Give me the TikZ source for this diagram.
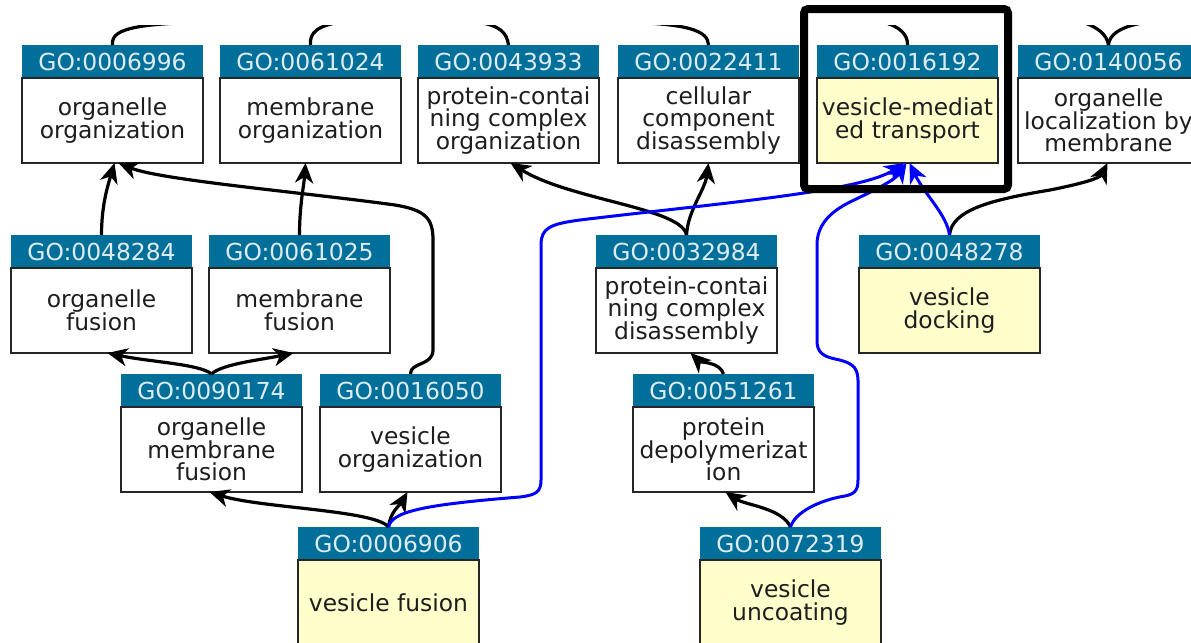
\documentclass[tikz,border=0pt]{standalone}
\usepackage{fontspec}
\setmainfont{DejaVu Sans}
\usetikzlibrary{arrows.meta,calc}

\definecolor{hdrblue}{RGB}{0,111,153}
\definecolor{hdrtext}{RGB}{222,236,242}
\definecolor{termfill}{RGB}{255,255,204}
\definecolor{inktext}{RGB}{30,30,30}
\definecolor{partofblue}{RGB}{0,0,255}

\newcommand\headfont{\fontsize{11.7}{13}\selectfont}
\newcommand\namefont{\fontsize{11.7}{11.3}\selectfont}

\tikzset{
  gohead/.style={fill=hdrblue, text=hdrtext, minimum width=90.5pt, minimum height=16.5pt,
    inner sep=0pt, outer sep=0pt, font=\headfont},
  gobody/.style={draw=black!85, line width=0.9pt, minimum width=90.5pt, minimum height=42.5pt,
    inner sep=0pt, outer sep=0pt, align=center, text=inktext, font=\namefont},
  tip/.style={-{Stealth[length=10pt,width=9pt,inset=3pt]}},
  isaline/.style={draw=black, line width=1.6pt, tip},
  partofline/.style={draw=partofblue, line width=1.5pt, tip},
  tailline/.style={draw=black, line width=1.6pt},
  focusframe/.style={draw=black, line width=4pt, rounded corners=2pt},
}

% one GO term: header strip with the id, body with the name
\newcommand\goterm[6]{%
  \node[gohead, anchor=north west] (h#1) at (#2,#3) {#4};
  \node[gobody, fill=#6, anchor=north] (b#1) at (h#1.south) {#5};
}

\begin{document}
\begin{tikzpicture}[x=0.5pt,y=-0.5pt]
\lineskiplimit=-20pt\relax
\clip (0,0) rectangle (1191,643);
\fill[white] (0,0) rectangle (1191,643);

% row 1
\goterm{6996}{22}{45}{GO:0006996}{organelle\\organization}{white}
\goterm{61024}{220}{45}{GO:0061024}{membrane\\organization}{white}
\goterm{43933}{418}{45}{GO:0043933}{protein-contai\\ning complex\\organization}{white}
\goterm{22411}{618}{45}{GO:0022411}{cellular\\component\\disassembly}{white}
\goterm{16192}{817}{45}{GO:0016192}{vesicle-mediat\\ed transport}{termfill}
\goterm{140056}{1018}{45}{GO:0140056}{organelle\\localization by\\membrane}{white}
% row 2
\goterm{48284}{11}{235}{GO:0048284}{organelle\\fusion}{white}
\goterm{61025}{209}{235}{GO:0061025}{membrane\\fusion}{white}
\goterm{32984}{596}{235}{GO:0032984}{protein-contai\\ning complex\\disassembly}{white}
\goterm{48278}{859}{235}{GO:0048278}{vesicle\\docking}{termfill}
% row 3
\goterm{90174}{121}{374}{GO:0090174}{organelle\\membrane\\fusion}{white}
\goterm{16050}{320}{374}{GO:0016050}{vesicle\\organization}{white}
\goterm{51261}{633}{374}{GO:0051261}{protein\\depolymerizat\\ion}{white}
% row 4
\goterm{6906}{298}{527}{GO:0006906}{vesicle fusion}{termfill}
\goterm{72319}{700}{527}{GO:0072319}{vesicle\\uncoating}{termfill}

% links leaving the top edge towards further ancestors
\coordinate (up6996) at (205,22);
\coordinate (up61024) at (342,22);
\coordinate (up43933) at (476,22);
\coordinate (up22411) at (615,22);
\coordinate (up16192) at (882,22);
\coordinate (up140056a) at (1082,22);
\coordinate (up140056b) at (1148,22);
\begin{scope}
  \clip (0,25) rectangle (1191,100);
  \draw[tailline] (h6996.north) .. controls (111,30) and (130,24) .. (up6996);
  \draw[tailline] (h61024.north) .. controls (309,33) and (318,25) .. (up61024);
  \draw[tailline] (h43933.north) .. controls (507,33) and (500,25) .. (up43933);
  \draw[tailline] (h22411.north) .. controls (708,31) and (690,23) .. (up22411);
  \draw[tailline] (h16192.north) .. controls (908,35) and (900,26) .. (up16192);
  \draw[tailline] (h140056.north) .. controls (1107,35) and (1098,27) .. (up140056a);
  \draw[tailline] (h140056.north) .. controls (1109,35) and (1120,26) .. (up140056b);
\end{scope}

% is_a links
\draw[isaline] (h48284.north) .. controls (101.5,205) and (108,185) .. ($(b6996.south)+(2,0)$);
\draw[isaline] (h61025.north) .. controls (299.5,205) and (304,185) .. ($(b61024.south)+(-5,0)$);
\draw[isaline] (h16050.north) .. controls (410,362) and (433,366) .. (433,350) -- (433,240)
  .. controls (433,218) and (425,210) .. (395,205) .. controls (300,192) and (160,180) .. ($(b6996.south)+(6,0)$);
\draw[isaline] (h90174.north) .. controls (200,364) and (150,362) .. ($(b48284.south)+(6,0)$);
\draw[isaline] (h90174.north) .. controls (222,364) and (260,360) .. ($(b61025.south)+(-6,0)$);
\draw[isaline] (h6906.north) .. controls (375,510) and (260,508) .. ($(b90174.south)+(-2,0)$);
\draw[isaline] (h6906.north) .. controls (390,512) and (400,505) .. ($(b16050.south)+(-3,0)$);
\draw[isaline] (h32984.north) .. controls (682,208) and (570,200) .. ($(b43933.south)+(2,0)$);
\draw[isaline] (h32984.north) .. controls (688,210) and (705,190) .. (b22411.south);
\draw[isaline] (h51261.north) .. controls (720,362) and (700,362) .. ($(b32984.south)+(4,0)$);
\draw[isaline] (h72319.north) .. controls (782,508) and (745,505) .. ($(b51261.south)+(2,0)$);
\draw[isaline] (h48278.north) .. controls (952,210) and (990,200) .. (1050,190)
  .. controls (1085,183) and (1100,178) .. ($(b140056.south)+(-1,0)$);

% part_of links
\draw[partofline] (h6906.north) .. controls (392,512) and (420,505) .. (520,497)
  .. controls (536,495) and (541,492) .. (541,480) -- (541,245)
  .. controls (541,228) and (550,224) .. (580,220) .. controls (720,203) and (860,192) .. ($(b16192.south)+(-3,0)$);
\draw[partofline] (h72319.north) .. controls (795,512) and (820,500) .. (845,496)
  .. controls (855,494) and (858,490) .. (858,480) -- (858,380)
  .. controls (858,366) and (850,362) .. (835,359) .. controls (822,356) and (817,352) .. (817,340) -- (817,245)
  .. controls (817,225) and (830,212) .. (850,202) .. controls (875,190) and (895,180) .. ($(b16192.south)+(-1,0)$);
\draw[partofline] (h48278.north) .. controls (947,215) and (925,195) .. ($(b16192.south)+(2,0)$);

% frame round the focus term
\draw[focusframe] (804,9) rectangle (1008,189);
\end{tikzpicture}
\end{document}
